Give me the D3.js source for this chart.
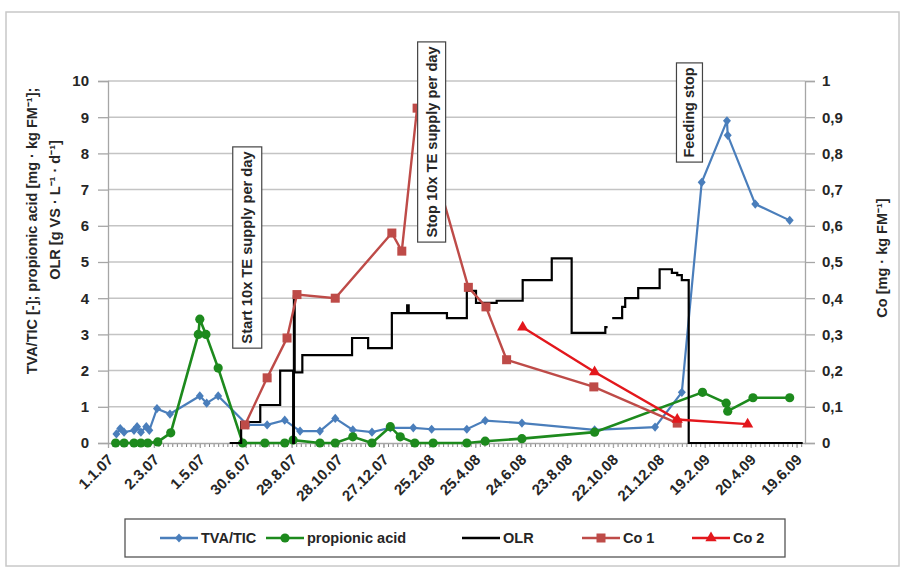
<!DOCTYPE html>
<html><head><meta charset="utf-8">
<script src="https://cdn.jsdelivr.net/npm/d3@7"></script>
<style>
body{margin:0;background:#fff;}
svg text{font-family:"Liberation Sans",Arial,sans-serif;font-weight:bold;fill:#262626;}
</style></head><body>
<svg id="c" width="901" height="569"></svg>
<script>
// ---------- data ----------
const xTickLabels = ["1.1.07","2.3.07","1.5.07","30.6.07","29.8.07","28.10.07","27.12.07","25.2.08","25.4.08","24.6.08","23.8.08","22.10.08","21.12.08","19.2.09","20.4.09","19.6.09"];
const xDomain = ["2007-01-01","2009-06-30"];
const leftTicks = [0,1,2,3,4,5,6,7,8,9,10];
const rightTicks = [0,0.1,0.2,0.3,0.4,0.5,0.6,0.7,0.8,0.9,1];
const rightTickLabels = ["0","0,1","0,2","0,3","0,4","0,5","0,6","0,7","0,8","0,9","1"];

const tvaDates = ["2007-01-12","2007-01-17","2007-01-22","2007-02-04","2007-02-08","2007-02-13","2007-02-20","2007-02-24","2007-03-06","2007-03-23","2007-05-01","2007-05-10","2007-05-25","2007-07-02","2007-07-28","2007-08-20","2007-09-09","2007-10-05","2007-10-25","2007-11-17","2007-12-12","2008-01-05","2008-02-04","2008-02-28","2008-04-14","2008-05-08","2008-06-25","2008-09-28","2008-12-16","2009-01-20","2009-02-15","2009-03-20","2009-03-21","2009-04-26","2009-06-10"];
const tvaValues = [0.25,0.4,0.3,0.35,0.45,0.3,0.45,0.35,0.95,0.8,1.3,1.1,1.3,0.5,0.5,0.63,0.33,0.33,0.68,0.36,0.3,0.42,0.42,0.38,0.38,0.62,0.55,0.36,0.44,1.4,7.2,8.9,8.5,6.6,6.15];

const propDates = ["2007-01-11","2007-01-22","2007-02-04","2007-02-13","2007-02-22","2007-03-07","2007-03-24","2007-04-29","2007-05-01","2007-05-09","2007-05-25","2007-06-26","2007-07-25","2007-08-20","2007-08-31","2007-10-05","2007-10-25","2007-11-17","2007-12-12","2008-01-05","2008-01-18","2008-02-06","2008-03-01","2008-04-14","2008-05-08","2008-06-25","2008-09-28","2009-02-16","2009-03-19","2009-03-21","2009-04-23","2009-06-10"];
const propValues = [0,0,0,0,0,0.03,0.28,3.0,3.42,3.0,2.07,0,0,0,0.08,0,0,0.17,0,0.45,0.17,0,0,0,0.05,0.12,0.3,1.4,1.1,0.88,1.25,1.25];

const olrDates = ["2007-06-09","2007-06-24","2007-07-19","2007-08-14","2007-08-31","2007-09-01","2007-09-02","2007-09-12","2007-11-16","2007-12-07","2008-01-07","2008-01-27","2008-01-29","2008-03-19","2008-04-14","2008-04-26","2008-05-23","2008-06-26","2008-08-03","2008-08-29","2008-10-12","2008-10-15","2008-10-16","2008-10-21","2008-11-03","2008-11-07","2008-11-24","2008-12-22","2009-01-07","2009-01-14","2009-01-20","2009-01-29","2009-06-27"];
const olrValues = [0,0.58,1.05,2.0,0,4.05,1.95,2.43,2.9,2.62,3.59,3.8,3.59,3.45,4.2,3.87,3.93,4.5,5.1,3.04,3.2,3.2,null,3.45,3.76,4.0,4.28,4.8,4.7,4.64,4.5,0,0];

const co1Dates = ["2007-06-29","2007-07-28","2007-08-23","2007-09-05","2007-10-25","2008-01-07","2008-01-20","2008-02-09","2008-04-16","2008-05-09","2008-06-05","2008-09-27","2009-01-14"];
const co1Values = [0.05,0.18,0.29,0.41,0.40,0.58,0.53,0.925,0.43,0.376,0.23,0.155,0.055];

const co2Dates = ["2008-06-26","2008-09-28","2009-01-14","2009-04-16"];
const co2Values = [0.32,0.196,0.065,0.052];

const annotationTexts = ["Start 10x TE supply per day","Stop 10x TE supply per day","Feeding stop"];
const annotationDates = ["2007-07-02","2008-02-28","2009-01-30"];

const seriesNames = ["TVA/TIC","propionic acid","OLR","Co 1","Co 2"];
const colors = {tva:"#4a7ebb", prop:"#1d8a1d", olr:"#000000", co1:"#be4b48", co2:"#e3171c"};

// ---------- setup ----------
const parse = d3.timeParse("%Y-%m-%d");
const parseTick = d3.timeParse("%d.%m.%y");
const svg = d3.select("#c");
const M = {l:108, r:805, t:81, b:443};

svg.append("rect").attr("x",6).attr("y",12).attr("width",893).attr("height",554)
  .attr("fill","#fff").attr("stroke","#c8c8c8").attr("stroke-width",1.5);

const x = d3.scaleTime().domain(xDomain.map(parse)).range([M.l, M.r]);
const yL = d3.scaleLinear().domain([0,10]).range([M.b, M.t]);
const yR = d3.scaleLinear().domain([0,1]).range([M.b, M.t]);

const zip = (ds, vs) => ds.map((d,i) => ({date: parse(d), v: vs[i]}));
const tva = zip(tvaDates, tvaValues);
const prop = zip(propDates, propValues);
const olr = zip(olrDates, olrValues);
const co1 = zip(co1Dates, co1Values);
const co2 = zip(co2Dates, co2Values);

// gridlines
svg.append("g").selectAll("line").data(leftTicks.filter(d => d > 0)).join("line")
  .attr("x1", M.l).attr("x2", M.r).attr("y1", d => yL(d)).attr("y2", d => yL(d))
  .attr("stroke", "#c4c4c4").attr("stroke-width", 1.5);

function styleAxis(g){
  g.select(".domain").attr("stroke","#a6a6a6").attr("stroke-width",1.3);
  g.selectAll(".tick line").attr("stroke","#a6a6a6").attr("stroke-width",1.3);
  g.selectAll(".tick text").attr("font-size",15).attr("fill","#262626")
   .style("font-family","'Liberation Sans',Arial,sans-serif").style("font-weight","bold");
}

// left axis
const gL = svg.append("g").attr("transform",`translate(${M.l},0)`)
  .call(d3.axisLeft(yL).tickValues(leftTicks).tickFormat(d3.format("d")).tickSize(10).tickPadding(9));
styleAxis(gL);

// right axis
const gR = svg.append("g").attr("transform",`translate(${M.r},0)`)
  .call(d3.axisRight(yR).tickValues(rightTicks).tickFormat((d,i) => rightTickLabels[i]).tickSize(10).tickPadding(7));
styleAxis(gR);

// bottom axis: minor ticks
const start = x.domain()[0];
const minorDates = d3.range(0, 911, 6).map(d => d3.timeDay.offset(start, d));
const gMin = svg.append("g").attr("transform",`translate(0,${M.b})`)
  .call(d3.axisBottom(x).tickValues(minorDates).tickSize(4).tickFormat(""));
gMin.select(".domain").remove();
gMin.selectAll(".tick line").attr("stroke","#808080").attr("stroke-width",1);

const majorDates = xTickLabels.map(parseTick);
const gB = svg.append("g").attr("transform",`translate(0,${M.b})`)
  .call(d3.axisBottom(x).tickValues(majorDates).tickFormat((d,i) => xTickLabels[i]).tickSize(5).tickSizeOuter(0));
styleAxis(gB);
gB.selectAll(".tick text")
  .attr("text-anchor","end").attr("x",0).attr("y",0).attr("dy","0.35em")
  .attr("transform","translate(2,14) rotate(-45)");

// ---------- series ----------
const lineL = d3.line().defined(d => d.v != null).x(d => x(d.date)).y(d => yL(d.v));
const lineR = d3.line().x(d => x(d.date)).y(d => yR(d.v));
const stepL = d3.line().defined(d => d.v != null).x(d => x(d.date)).y(d => yL(d.v)).curve(d3.curveStepAfter);

const diamond = "M0,-4.6L4,0L0,4.6L-4,0Z";

// TVA/TIC
svg.append("path").datum(tva).attr("d", lineL).attr("fill","none").attr("stroke",colors.tva).attr("stroke-width",2.2);
svg.append("g").selectAll("path").data(tva).join("path").attr("d",diamond)
  .attr("transform", d => `translate(${x(d.date)},${yL(d.v)})`).attr("fill",colors.tva);

// propionic acid
svg.append("path").datum(prop).attr("d", lineL).attr("fill","none").attr("stroke",colors.prop).attr("stroke-width",2.6);
svg.append("g").selectAll("circle").data(prop).join("circle")
  .attr("cx", d => x(d.date)).attr("cy", d => yL(d.v)).attr("r",4.6).attr("fill",colors.prop);

// OLR
svg.append("path").datum(olr).attr("d", stepL).attr("fill","none").attr("stroke",colors.olr).attr("stroke-width",2.2);

// Co 1
svg.append("path").datum(co1).attr("d", lineR).attr("fill","none").attr("stroke",colors.co1).attr("stroke-width",2.4);
svg.append("g").selectAll("rect").data(co1).join("rect")
  .attr("x", d => x(d.date)-4.5).attr("y", d => yR(d.v)-4.5).attr("width",9).attr("height",9).attr("fill",colors.co1);

// Co 2
const tri = d3.symbol(d3.symbolTriangle, 55)();
svg.append("path").datum(co2).attr("d", lineR).attr("fill","none").attr("stroke",colors.co2).attr("stroke-width",2.4);
svg.append("g").selectAll("path").data(co2).join("path").attr("d",tri)
  .attr("transform", d => `translate(${x(d.date)},${yR(d.v)})`).attr("fill",colors.co2);

// ---------- annotations ----------
const annBoxes = [{w:29, top:8.18, bot:2.62},{w:28, top:11.08, bot:5.55},{w:26, top:10.5, bot:7.76}];
annotationTexts.forEach((t,i) => {
  const cx = x(parse(annotationDates[i]));
  const b = annBoxes[i];
  const y0 = yL(b.top), y1 = yL(b.bot);
  svg.append("rect").attr("x", cx - b.w/2).attr("y", y0).attr("width", b.w).attr("height", y1 - y0)
    .attr("fill","#fff").attr("stroke","#444").attr("stroke-width",1.2);
  svg.append("text").attr("transform", `translate(${cx+5},${(y0+y1)/2}) rotate(-90)`)
    .attr("text-anchor","middle").attr("font-size",14.2)
    .attr("textLength", (y1 - y0) - 9).attr("lengthAdjust","spacingAndGlyphs").text(t);
});

// ---------- axis titles ----------
svg.append("text").attr("transform","translate(37,231) rotate(-90)").attr("text-anchor","middle")
  .attr("font-size",14.5).text("TVA/TIC [-]; propionic acid [mg · kg FM⁻¹];");
svg.append("text").attr("transform","translate(60,210) rotate(-90)").attr("text-anchor","middle")
  .attr("font-size",14.5).text("OLR [g VS · L⁻¹ · d⁻¹]");
svg.append("text").attr("transform","translate(887,258) rotate(-90)").attr("text-anchor","middle")
  .attr("font-size",14.5).text("Co [mg · kg FM⁻¹]");

// ---------- legend ----------
svg.append("rect").attr("x",125).attr("y",519).attr("width",660).attr("height",38)
  .attr("fill","#fff").attr("stroke","#555").attr("stroke-width",1.3);
const legX = [160, 266, 462, 582, 692];
const legKeys = ["tva","prop","olr","co1","co2"];
const ly = 538;
legKeys.forEach((k,i) => {
  const x0 = legX[i], x1 = x0 + 38, xm = (x0 + x1)/2;
  svg.append("line").attr("x1",x0).attr("x2",x1).attr("y1",ly).attr("y2",ly)
    .attr("stroke",colors[k]).attr("stroke-width",2.4);
  if (k === "tva") svg.append("path").attr("d",diamond).attr("transform",`translate(${xm},${ly})`).attr("fill",colors[k]);
  if (k === "prop") svg.append("circle").attr("cx",xm).attr("cy",ly).attr("r",4.6).attr("fill",colors[k]);
  if (k === "co1") svg.append("rect").attr("x",xm-4.5).attr("y",ly-4.5).attr("width",9).attr("height",9).attr("fill",colors[k]);
  if (k === "co2") svg.append("path").attr("d",tri).attr("transform",`translate(${xm},${ly})`).attr("fill",colors[k]);
  svg.append("text").attr("x", x1 + 3).attr("y", ly + 5).attr("font-size",14.5).text(seriesNames[i]);
});
</script>
</body></html>
